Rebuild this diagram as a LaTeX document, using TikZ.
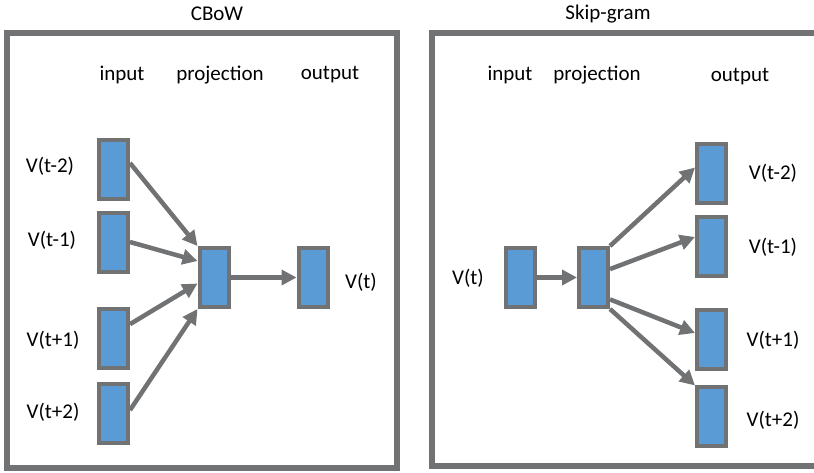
\documentclass[tikz,border=0pt]{standalone}
\usepackage{fontspec}
\setmainfont{Carlito}
\usetikzlibrary{%
  arrows.meta,
  positioning
}

\definecolor{framegray}{HTML}{707274}
\definecolor{boxblue}{HTML}{5B9BD5}

\tikzset{
  vecbox/.style = {draw=framegray, line width=4pt, fill=boxblue,
                   minimum width=29pt, minimum height=59pt, inner sep=0pt},
  arr/.style = {draw=framegray, line width=4.5pt,
                -{Triangle[length=15pt,width=15pt]}},
  frame/.style = {draw=framegray, line width=6pt},
  lbl/.style = {inner sep=0pt, font=\fontsize{21}{24}\selectfont}
}

\begin{document}
\begin{tikzpicture}[x=1pt, y=-1pt]

  \useasboundingbox (0,0) rectangle (814,472);

  \draw[frame] (7,33) rectangle (397,467.5);
  \draw[frame] (817,32.5) -- (432,32.5) -- (432,466) -- (817,466);

  \node[lbl] (cbow) at (217,14) {CBoW};
  \node[lbl] (skip) at (608,14) {Skip-gram};

  \node[lbl] (cin) at (122,75) {input};
  \node[lbl] (cproj) at (220,75) {projection};
  \node[lbl] (cout) at (330,75) {output};

  \node[lbl] (sin) at (510,75) {input};
  \node[lbl] (sproj) at (597,75) {projection};
  \node[lbl] (sout) at (740,77) {output};

  \node[vecbox] (in1) at (113.5,169) {};
  \node[vecbox] (in2) at (113.5,242) {};
  \node[vecbox] (in3) at (113.5,338) {};
  \node[vecbox] (in4) at (113.5,413) {};
  \node[vecbox] (proj) at (214,277.5) {};
  \node[vecbox] (out) at (313,277.5) {};

  \node[lbl] (lin1) at (50,166) {V(t-2)};
  \node[lbl] (lin2) at (52,240) {V(t-1)};
  \node[lbl] (lin3) at (53,340) {V(t+1)};
  \node[lbl] (lin4) at (53,412) {V(t+2)};
  \node[lbl] (lout) at (361,282) {V(t)};

  \draw[arr] (in1.20) -- (proj.north west);
  \draw[arr] (in2.east) -- (proj.135);
  \draw[arr] (in3.40) -- (proj.200);
  \draw[arr] (in4.10) -- (proj.south west);
  \draw[arr] (proj.east) -- (out.west);

  \node[vecbox] (win) at (520,277.5) {};
  \node[vecbox] (wproj) at (593.5,277.5) {};
  \node[vecbox] (wout1) at (711.5,173.5) {};
  \node[vecbox] (wout2) at (711.5,246.5) {};
  \node[vecbox] (wout3) at (711.5,339) {};
  \node[vecbox] (wout4) at (711.5,416.5) {};

  \node[lbl] (lwin) at (468,278) {V(t)};
  \node[lbl] (lwout1) at (773,173) {V(t-2)};
  \node[lbl] (lwout2) at (773,247) {V(t-1)};
  \node[lbl] (lwout3) at (773,340) {V(t+1)};
  \node[lbl] (lwout4) at (773,420) {V(t+2)};

  \draw[arr] (win.east) -- (wproj.west);
  \draw[arr] (wproj.north east) -- (wout1.160);
  \draw[arr] (wproj.27) -- (wout2.150);
  \draw[arr] (wproj.-53) -- (wout3.160);
  \draw[arr] (wproj.south east) -- (wout4.118);

\end{tikzpicture}
\end{document}
